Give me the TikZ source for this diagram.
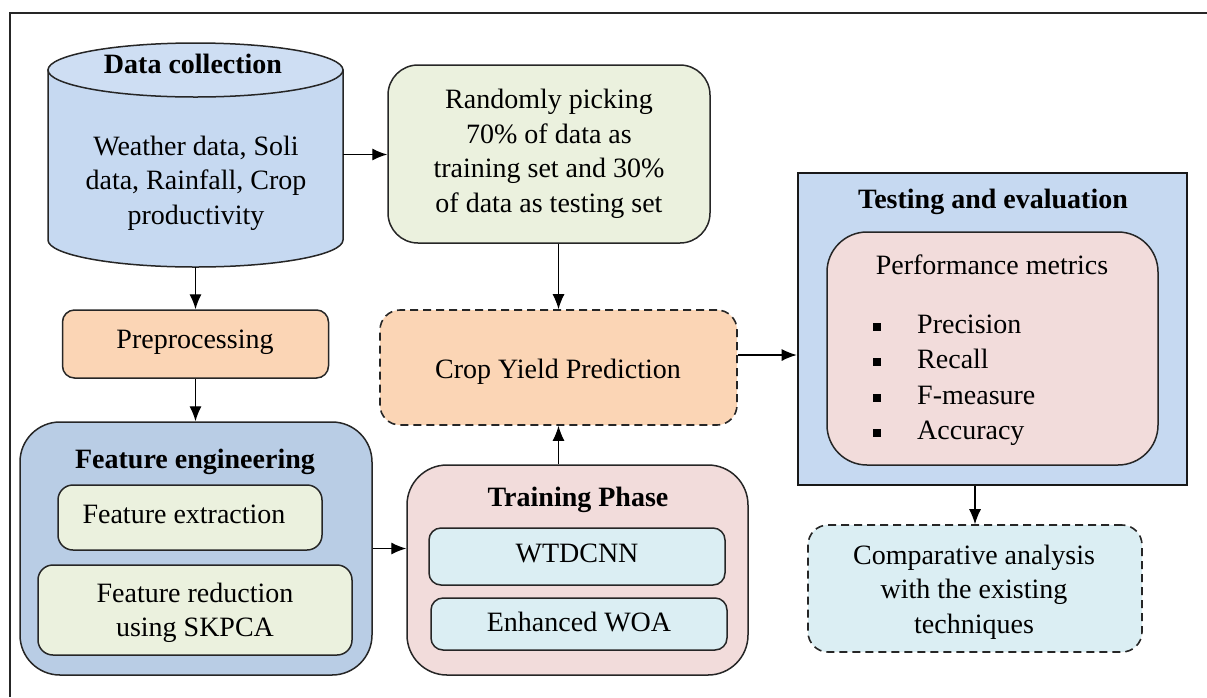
\documentclass[tikz,border=0pt]{standalone}
\usepackage{fontspec}
\setmainfont{Liberation Serif}
\usetikzlibrary{arrows.meta}
\definecolor{cylblue}{HTML}{C6D9F1}
\definecolor{cyltop}{HTML}{CEDEF3}
\definecolor{lgreen}{HTML}{EBF1DE}
\definecolor{peach}{HTML}{FBD5B5}
\definecolor{febl}{HTML}{B9CDE5}
\definecolor{pinkbg}{HTML}{F2DCDB}
\definecolor{lcyan}{HTML}{DBEEF3}
\definecolor{testbl}{HTML}{C6D9F1}
\begin{document}
\begin{tikzpicture}[x=1pt,y=-1pt,
  every node/.style={font=\fontsize{28}{34.5}\selectfont, inner sep=0pt},
  boxline/.style={draw=black!85, line width=1.5pt},
  dashline/.style={draw=black!85, line width=1.6pt, dash pattern=on 8pt off 5pt},
  ln/.style={text height=19pt, text depth=6pt},
  ml/.style={align=center},
  hd/.style={font=\fontsize{28}{34.5}\selectfont\bfseries, text height=19pt, text depth=6pt},
  arr/.style={-{Latex[length=15pt,width=12pt]}, line width=1.2pt, draw=black},
  sq/.style={fill=black, minimum size=7.5pt}
]
\useasboundingbox (0,0) rectangle (1207,697);
% outer frame
\draw[line width=1.3pt, black!85] (10,697) -- (10,13) -- (1207,13);

% cylinder: data collection
\path[boxline, fill=cylblue] (48,70) -- (48,240)
  .. controls (48,254.9) and (114,267) .. (195.5,267)
  .. controls (277,267) and (343,254.9) .. (343,240) -- (343,70) -- cycle;
\draw[boxline, fill=cyltop] (195.5,70) ellipse [x radius=147.5, y radius=27];
\node[minimum width=295pt, minimum height=225pt] (dc) at (195.5,154.5) {};
\node[hd] (dct) at (193,67) {Data collection};
\node[ml] (dcb) at (196,183) {Weather data, Soli\\data, Rainfall, Crop\\productivity};

% random picking
\node[boxline, fill=lgreen, rounded corners=30pt, minimum width=322pt, minimum height=178pt] (rand) at (549,154) {};
\node[ml] (randt) at (549,154) {Randomly picking\\70\% of data as\\training set and 30\%\\of data as testing set};

% preprocessing
\node[boxline, fill=peach, rounded corners=12pt, minimum width=266pt, minimum height=68pt] (pre) at (195.5,344) {};
\node[ln] (pret) at (195,342) {Preprocessing};

% crop yield prediction
\node[dashline, fill=peach, rounded corners=20pt, minimum width=357pt, minimum height=115pt] (cyp) at (558.5,367.5) {};
\node[ln] (cypt) at (558,372) {Crop Yield Prediction};

% feature engineering
\node[boxline, fill=febl, rounded corners=40pt, minimum width=352pt, minimum height=253pt] (feat) at (196,548.5) {};
\node[hd] (featt) at (195,462) {Feature engineering};
\node[boxline, fill=lgreen, rounded corners=15pt, minimum width=264pt, minimum height=65pt] (fx) at (190,517.5) {};
\node[ln] (fxt) at (184,517) {Feature extraction};
\node[boxline, fill=lgreen, rounded corners=15pt, minimum width=314pt, minimum height=90pt] (fr) at (195,610) {};
\node[ml] (frt) at (195,613) {Feature reduction\\using SKPCA};

% training phase
\node[boxline, fill=pinkbg, rounded corners=40pt, minimum width=341pt, minimum height=210pt] (train) at (577.5,570) {};
\node[hd] (traint) at (578,500) {Training Phase};
\node[boxline, fill=lcyan, rounded corners=12pt, minimum width=296pt, minimum height=57pt] (wt) at (577,556.5) {};
\node[ln] (wtt) at (577,556) {WTDCNN};
\node[boxline, fill=lcyan, rounded corners=12pt, minimum width=296pt, minimum height=52pt] (woa) at (579,624) {};
\node[ln] (woat) at (579,625) {Enhanced WOA};

% testing and evaluation
\node[draw=black!90, line width=2.6pt, fill=testbl, minimum width=389pt, minimum height=312pt] (test) at (992.5,329) {};
\node[hd] (testt) at (993,202) {Testing and evaluation};
\node[boxline, fill=pinkbg, rounded corners=40pt, minimum width=331pt, minimum height=233pt] (perf) at (992.5,348.5) {};
\node[ln] (perft) at (992,268) {Performance metrics};
\node[sq] (b1) at (877,327) {};
\node[sq] (b2) at (877,362) {};
\node[sq] (b3) at (877,398) {};
\node[sq] (b4) at (877,433) {};
\node[ln, anchor=west] (i1) at (917,327) {Precision};
\node[ln, anchor=west] (i2) at (917,362) {Recall};
\node[ln, anchor=west] (i3) at (917,398) {F-measure};
\node[ln, anchor=west] (i4) at (917,433) {Accuracy};

% comparative analysis
\node[dashline, fill=lcyan, rounded corners=20pt, minimum width=334pt, minimum height=127pt] (comp) at (975,588.5) {};
\node[ml] (compt) at (974,592) {Comparative analysis\\with the existing\\techniques};

% connectors
\draw[arr] (dc.east) -- (dc.east -| rand.west);
\draw[arr] (dc.south) -- (pre.north);
\draw[arr] (pre.south) -- (pre.south |- feat.north);
\draw[arr] (cyp.north |- rand.south) -- (cyp.north);
\draw[arr] (cyp.south |- train.north) -- (cyp.south);
\draw[arr] (feat.east) -- (feat.east -| train.west);
\draw[arr] ([yshift=12.5pt]cyp.east) -- ([yshift=12.5pt]cyp.east -| test.west);
\draw[arr] (comp.north |- test.south) -- (comp.north);
\end{tikzpicture}
\end{document}
